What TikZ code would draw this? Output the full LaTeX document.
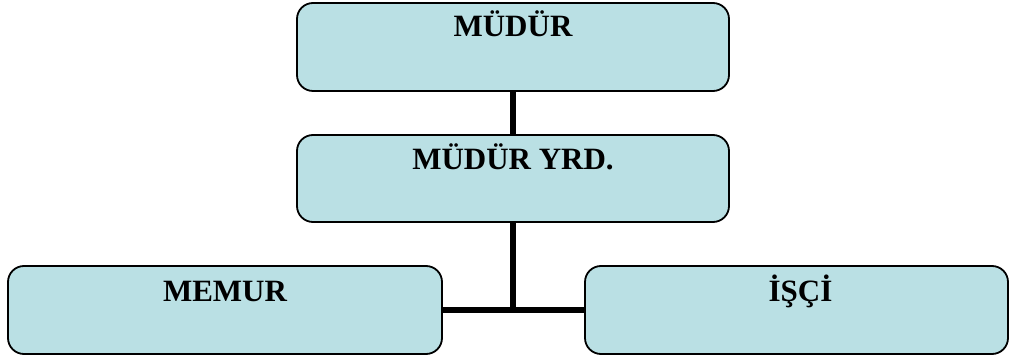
\documentclass[tikz,border=0pt]{standalone}
\usepackage{fontspec}
\setmainfont{Liberation Serif}
\definecolor{boxfill}{RGB}{186,224,228}
\begin{document}
\begin{tikzpicture}[x=1pt,y=1pt,
  box/.style={draw=black, line width=1.8pt, fill=boxfill, rounded corners=16pt, inner sep=0pt},
  lbl/.style={font=\fontsize{31}{36}\selectfont\bfseries, inner sep=0pt, anchor=base},
  conn/.style={draw=black, line width=6pt}]
\useasboundingbox (0,0) rectangle (1010,356);
\fill[white] (0,0) rectangle (1010,356);
\node[box, minimum width=432pt, minimum height=88pt] (mudur) at (513,309) {};
\node[box, minimum width=432pt, minimum height=87pt] (yrd) at (513,177.5) {};
\node[box, minimum width=434pt, minimum height=88pt] (memur) at (225,46) {};
\node[box, minimum width=423pt, minimum height=88pt] (isci) at (796.5,46) {};
\coordinate (junc) at (yrd.south |- memur.east);
\draw[conn] (mudur.south) -- (yrd.north);
\draw[conn] (yrd.south) -- ([yshift=-3pt]junc);
\draw[conn] (memur.east) -- (isci.west);
\node[lbl] (t1) at ([yshift=-34pt]mudur.north) {MÜDÜR};
\node[lbl] (t2) at ([yshift=-35pt]yrd.north) {MÜDÜR YRD.};
\node[lbl] (t3) at ([yshift=-36pt]memur.north) {MEMUR};
\node[lbl] (t4) at ([xshift=4pt,yshift=-36pt]isci.north) {İŞÇİ};
\end{tikzpicture}
\end{document}
